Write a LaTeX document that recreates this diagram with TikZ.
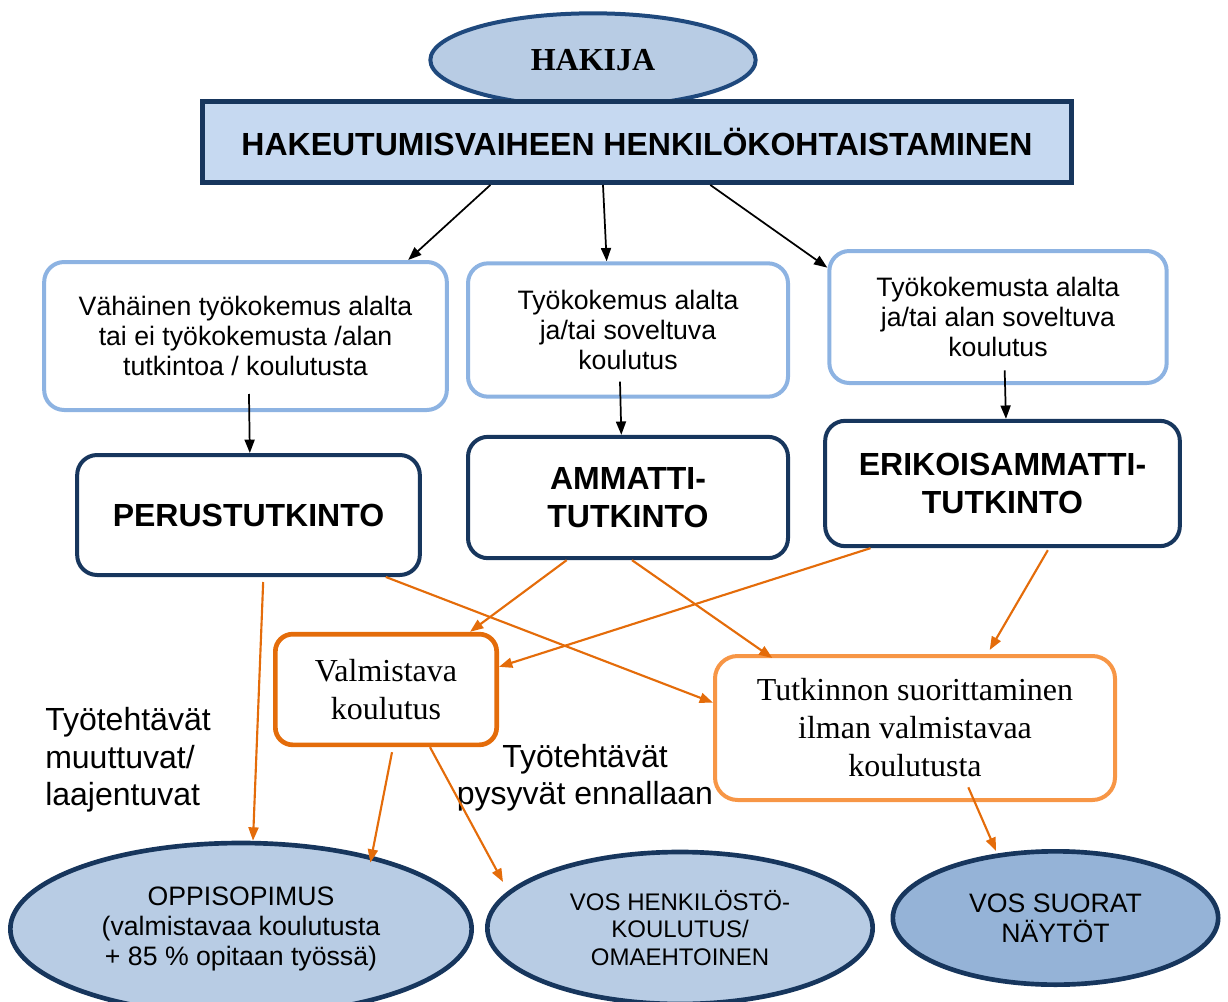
\documentclass[tikz,border=0pt]{standalone}
\usepackage{fontspec}
\setmainfont{Liberation Serif}
\setsansfont{Liberation Sans}
\usepackage{xcolor}
\usetikzlibrary{arrows.meta,shapes.geometric}

\definecolor{navyline}{HTML}{17365D}
\definecolor{ovalline}{HTML}{1F497D}
\definecolor{paleblue}{HTML}{C6D9F1}
\definecolor{ovalblue}{HTML}{B8CCE4}
\definecolor{deepblue}{HTML}{95B3D7}
\definecolor{skyline}{HTML}{8DB3E2}
\definecolor{burnt}{HTML}{E46C0A}
\definecolor{softorange}{HTML}{F79646}

\begin{document}
\begin{tikzpicture}[
    x=0.75pt, y=-0.75pt,
    >={Triangle[length=10pt,width=7.5pt]},
    hakoval/.style={draw=ovalline, line width=3pt, ellipse, fill=ovalblue,
        minimum width=244pt, minimum height=70pt, inner sep=0pt,
        font=\bfseries\fontsize{24}{26}\selectfont},
    phasebox/.style={draw=navyline, line width=3.5pt, rectangle, fill=paleblue,
        minimum width=652pt, minimum height=61pt,
        font=\sffamily\bfseries\fontsize{24}{28}\selectfont},
    startbox/.style={draw=skyline, line width=3pt, rectangle, rounded corners=15pt,
        fill=white, align=center, inner sep=0pt,
        font=\sffamily\fontsize{20}{22.5}\selectfont},
    degree/.style={draw=navyline, line width=3pt, rectangle, rounded corners=15pt,
        fill=white, align=center, inner sep=0pt,
        font=\sffamily\bfseries\fontsize{24}{28}\selectfont},
    prepbox/.style={draw=burnt, line width=3.5pt, rectangle, rounded corners=13pt,
        fill=white, align=center, inner sep=0pt,
        font=\fontsize{24}{28.5}\selectfont},
    directbox/.style={prepbox, draw=softorange, line width=3pt, rounded corners=17pt},
    pathoval/.style={draw=navyline, line width=3.5pt, ellipse, fill=ovalblue,
        align=center, inner sep=0pt,
        font=\sffamily\fontsize{20}{22.5}\selectfont},
    sidelbl/.style={inner sep=0pt, font=\sffamily\fontsize{24}{28}\selectfont},
    flow/.style={->, line width=1.3pt, color=black},
    route/.style={->, line width=1.6pt, color=burnt}
]
\useasboundingbox (0,0) rectangle (1228,1002);

% applicant and the common first phase
\node[hakoval] (hakija) at (593,60) {HAKIJA};
\node[phasebox] (phase) at (637,142) {HAKEUTUMISVAIHEEN HENKILÖKOHTAISTAMINEN};

% starting points
\node[startbox, minimum width=302pt, minimum height=111pt] (few) at (245.5,336)
    {Vähäinen työkokemus alalta\\tai ei työkokemusta /alan\\tutkintoa / koulutusta};
\node[startbox, minimum width=240pt, minimum height=100pt] (some) at (628,330)
    {Työkokemus alalta\\ja/tai soveltuva\\koulutus};
\node[startbox, minimum width=253pt, minimum height=99pt] (much) at (998,317)
    {Työkokemusta alalta\\ja/tai alan soveltuva\\koulutus};

% qualifications
\node[degree, minimum width=257pt, minimum height=90pt] (perus) at (248.5,515) {PERUSTUTKINTO};
\node[degree, minimum width=240pt, minimum height=91pt] (ammatti) at (628,497.5) {AMMATTI-\\TUTKINTO};
\node[degree, minimum width=266pt, minimum height=94pt] (erik) at (1002.5,483.5) {ERIKOISAMMATTI-\\TUTKINTO};

% ways of completing
\node[prepbox, minimum width=166pt, minimum height=83pt] (valm) at (386,689.5) {Valmistava\\koulutus};
\node[directbox, minimum width=300pt, minimum height=108pt] (tutk) at (915,728)
    {Tutkinnon suorittaminen\\ilman valmistavaa\\koulutusta};

% forms of training
\node[pathoval, minimum width=346pt, minimum height=129pt] (oppi) at (241,929)
    {OPPISOPIMUS\\(valmistavaa koulutusta\\+ 85 \% opitaan työssä)};
\node[pathoval, minimum width=289pt, minimum height=114pt,
    font=\sffamily\fontsize{18}{20.5}\selectfont] (vosh) at (680,928)
    {VOS HENKILÖSTÖ-\\KOULUTUS/\\OMAEHTOINEN};
\node[pathoval, fill=deepblue, minimum width=244pt, minimum height=100pt] (vosn) at (1055.5,918)
    {VOS SUORAT\\NÄYTÖT};

% side labels
\node[sidelbl, anchor=west, align=left] (muuttuvat) at (45,760) {Työtehtävät\\muuttuvat/\\laajentuvat};
\node[sidelbl, align=center] (pysyvat) at (585,778) {Työtehtävät\\pysyvät ennallaan};

% black arrows
\draw[flow] ([xshift=-110pt]phase.south) -- ([xshift=122pt]few.north);
\draw[flow] ([xshift=-25.5pt]phase.south) -- ([xshift=-16pt]some.north);
\draw[flow] ([xshift=55pt]phase.south) -- ([yshift=-14pt]much.north west);
\draw[flow] ([xshift=2.6pt,yshift=13.5pt]few.south) -- ([xshift=1pt]perus.north);
\draw[flow] ([xshift=-6pt,yshift=12.75pt]some.south) -- ([xshift=-5pt]ammatti.north);
\draw[flow] ([xshift=5pt,yshift=11pt]much.south) -- ([xshift=2.6pt]erik.north);

% orange arrows
\draw[route] ([xshift=11pt,yshift=-3.75pt]perus.south) -- ([xshift=9pt]oppi.north);
\draw[route] ([xshift=103pt]perus.south) -- ([yshift=19pt]tutk.west);
\draw[route] ([xshift=-46pt]ammatti.south) -- ([xshift=63pt]valm.north);
\draw[route] ([xshift=3pt]ammatti.south) -- ([xshift=-107pt,yshift=-3pt]tutk.north);
\draw[route] ([xshift=-99pt]erik.south) -- ([yshift=17pt]valm.east);
\draw[route] ([xshift=34pt,yshift=-1.5pt]erik.south) -- ([xshift=56pt,yshift=3pt]tutk.north);
\draw[route] ([xshift=4.5pt,yshift=-3.75pt]valm.south) -- ([xshift=97pt,yshift=-16.5pt]oppi.north);
\draw[route] ([xshift=33pt]valm.south) -- ([xshift=13.5pt,yshift=34.5pt]vosh.west);
\draw[route] ([xshift=40pt,yshift=11pt]tutk.south) -- ([xshift=-44.6pt,yshift=-1.5pt]vosn.north);
\end{tikzpicture}
\end{document}
